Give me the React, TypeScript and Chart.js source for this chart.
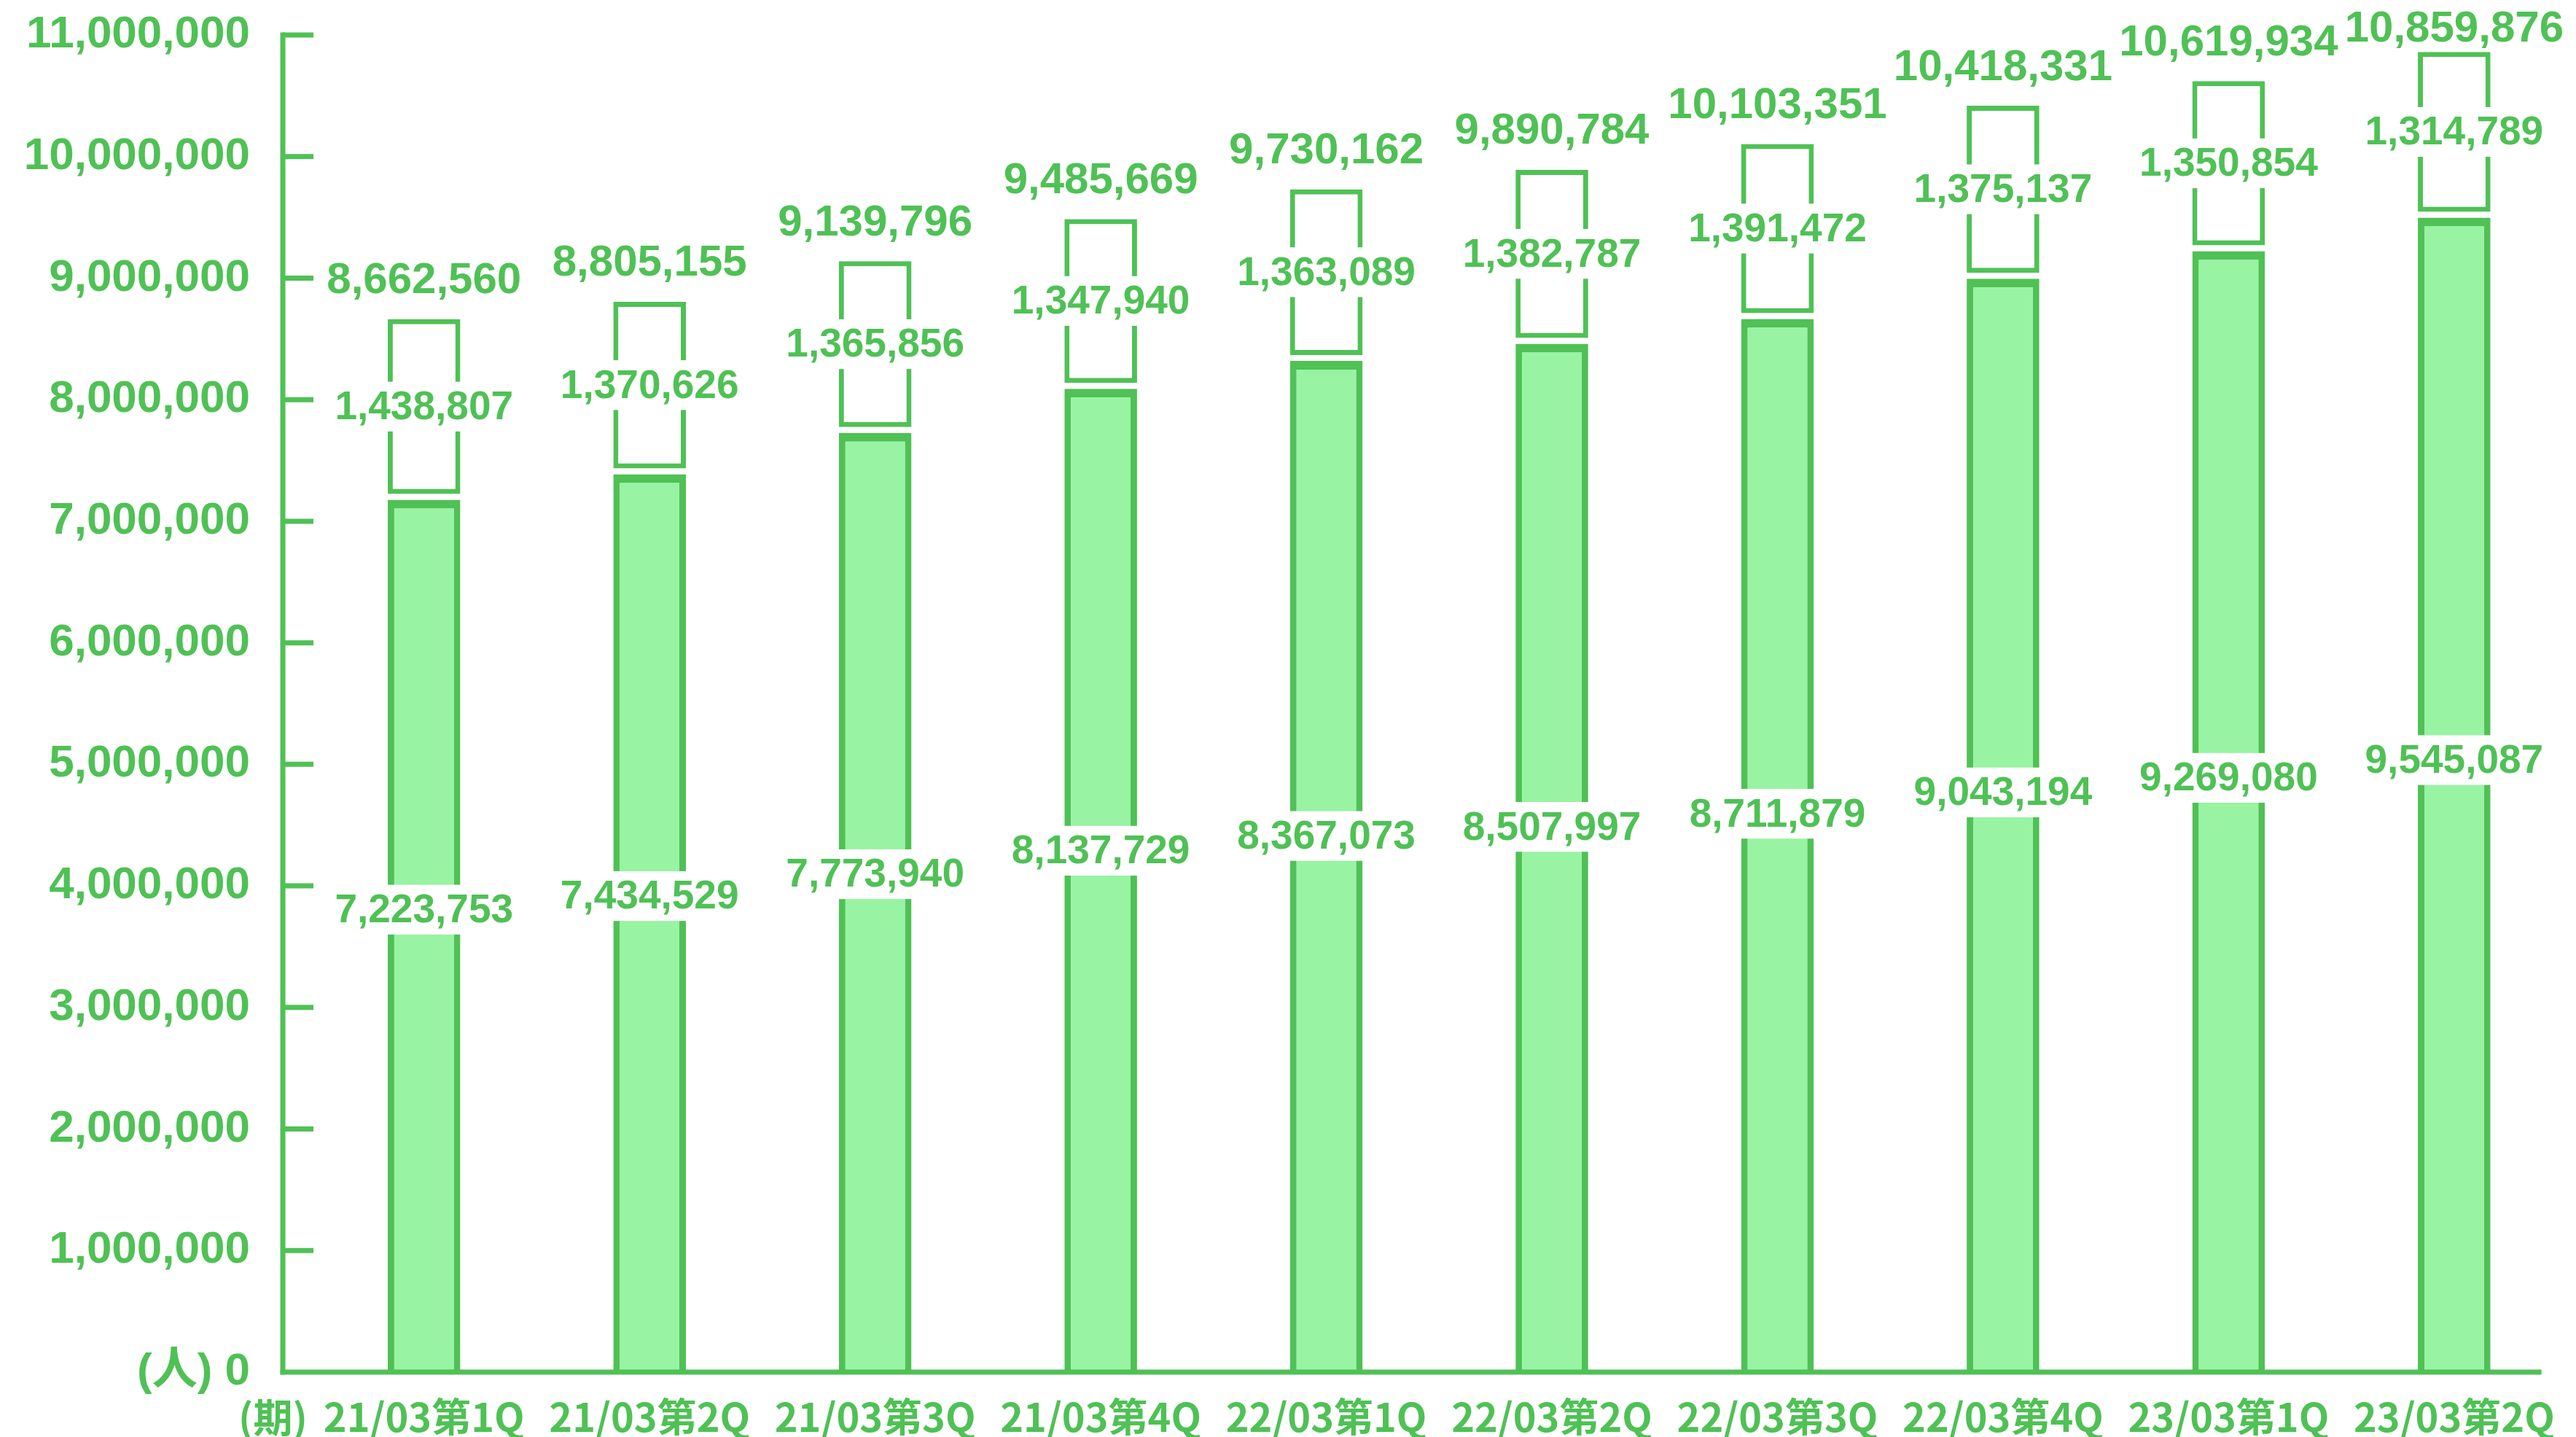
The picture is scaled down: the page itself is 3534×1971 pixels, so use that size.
import React, { useEffect, useRef } from "react";
import { Chart, registerables } from "chart.js";

Chart.register(...registerables);

// Quarterly user counts (people)
const periods = [
  "21/03第1Q",
  "21/03第2Q",
  "21/03第3Q",
  "21/03第4Q",
  "22/03第1Q",
  "22/03第2Q",
  "22/03第3Q",
  "22/03第4Q",
  "23/03第1Q",
  "23/03第2Q",
];
const baseUsers = [7223753, 7434529, 7773940, 8137729, 8367073, 8507997, 8711879, 9043194, 9269080, 9545087];
const addedUsers = [1438807, 1370626, 1365856, 1347940, 1363089, 1382787, 1391472, 1375137, 1350854, 1314789];
const totalUsers = [8662560, 8805155, 9139796, 9485669, 9730162, 9890784, 10103351, 10418331, 10619934, 10859876];
const yMin = 0;
const yMax = 11000000;
const yStep = 1000000;
const yUnit = "(人)";
const xUnit = "(期)";

const GREEN = "#4FC155";
const FILL = "#98F3A3";
const NUM_FONT = '"Liberation Sans", Arial, "Noto Sans CJK JP", sans-serif';
const CJK_FONT = '"Noto Sans CJK JP", "Liberation Sans", sans-serif';
const GAP = 8; // white gap between the two stacked segments

const fmt = (v: number) => v.toLocaleString("en-US");

const sketchPlugin = {
  id: "sketchBars",
  beforeDatasetDraw(chart: any, args: any) {
    if (args.index === 0) {
      chart.ctx.save();
      chart.ctx.translate(0, GAP);
    }
  },
  afterDatasetDraw(chart: any, args: any) {
    if (args.index === 0) chart.ctx.restore();
  },
  afterDatasetsDraw(chart: any) {
    const { ctx, chartArea, scales } = chart;
    const ys = scales.y;
    const xs = scales.x;
    const axisX = chartArea.left - 39;
    const axisY = chartArea.bottom;
    const axisEnd = chartArea.right - 35;
    const lw = 7;

    ctx.save();
    ctx.strokeStyle = GREEN;
    ctx.lineWidth = lw;
    ctx.lineCap = "butt";

    // axes
    ctx.beginPath();
    ctx.moveTo(axisX, ys.getPixelForValue(yMax) - lw / 2);
    ctx.lineTo(axisX, axisY + lw / 2);
    ctx.stroke();
    ctx.beginPath();
    ctx.moveTo(axisX - lw / 2, axisY);
    ctx.lineTo(axisEnd, axisY);
    ctx.stroke();

    // inward tick marks
    ys.ticks.forEach((t: any) => {
      if (t.value === 0) return;
      const py = ys.getPixelForValue(t.value);
      ctx.beginPath();
      ctx.moveTo(axisX, py);
      ctx.lineTo(axisX + 42, py);
      ctx.stroke();
    });

    const lowMeta = chart.getDatasetMeta(0);
    const topMeta = chart.getDatasetMeta(1);
    ctx.textAlign = "center";
    ctx.textBaseline = "middle";

    const boxedLabel = (text: string, cx: number, cy: number, size: number) => {
      ctx.font = `bold ${size}px ${NUM_FONT}`;
      const w = ctx.measureText(text).width;
      ctx.fillStyle = "#ffffff";
      ctx.fillRect(cx - w / 2 - 6, cy - size * 0.62, w + 12, size * 1.24);
      ctx.fillStyle = GREEN;
      ctx.fillText(text, cx, cy + size * 0.04);
    };

    lowMeta.data.forEach((bar: any, i: number) => {
      const cy = bar.base - 0.53 * (bar.base - bar.y) + GAP / 2;
      boxedLabel(fmt(baseUsers[i]), bar.x, cy, 55);
    });
    topMeta.data.forEach((bar: any, i: number) => {
      const cy = (bar.base + bar.y) / 2;
      boxedLabel(fmt(addedUsers[i]), bar.x, cy, 55);
      ctx.font = `bold 60px ${NUM_FONT}`;
      ctx.fillStyle = GREEN;
      const ty = Math.max(bar.y - 52, 40);
      ctx.fillText(fmt(totalUsers[i]), bar.x, ty);
    });

    // period unit, left of the first category label
    const firstX = xs.getPixelForValue(0);
    ctx.font = `bold 54px ${CJK_FONT}`;
    const firstW = ctx.measureText(periods[0]).width;
    ctx.textAlign = "right";
    ctx.fillStyle = GREEN;
    ctx.fillText(xUnit, firstX - firstW / 2 - 22, axisY + 62);
    ctx.restore();
  },
};

export default function App() {
  const canvasRef = useRef<HTMLCanvasElement | null>(null);

  useEffect(() => {
    if (!canvasRef.current) return;
    const chart = new Chart(canvasRef.current, {
      type: "bar",
      data: {
        labels: periods,
        datasets: [
          {
            label: "base",
            data: baseUsers,
            backgroundColor: FILL,
            borderColor: GREEN,
            borderWidth: { top: 12, left: 9, right: 9, bottom: 0 },
            borderSkipped: false,
            clip: { left: false, top: false, right: false, bottom: -GAP } as any,
          },
          {
            label: "added",
            data: addedUsers,
            backgroundColor: "#ffffff",
            borderColor: GREEN,
            borderWidth: 7,
            borderSkipped: false,
          },
        ],
      },
      options: {
        responsive: false,
        animation: false,
        devicePixelRatio: 1,
        layout: { padding: { left: 0, right: 5, top: 48, bottom: 0 } },
        datasets: { bar: { barPercentage: 0.322, categoryPercentage: 1 } },
        plugins: {
          legend: { display: false },
          tooltip: { enabled: false },
        },
        scales: {
          x: {
            stacked: true,
            offset: true,
            grid: { display: false, drawTicks: false },
            border: { display: false },
            ticks: {
              color: GREEN,
              font: { family: CJK_FONT, size: 54, weight: "bold" },
              padding: 29,
              maxRotation: 0,
              autoSkip: false,
            },
            afterFit: (scale: any) => {
              scale.height = 89;
            },
          },
          y: {
            stacked: true,
            min: yMin,
            max: yMax,
            grid: { display: false, drawTicks: false },
            border: { display: false },
            ticks: {
              stepSize: yStep,
              color: GREEN,
              padding: 84,
              font: { family: NUM_FONT, size: 62, weight: "bold" },
              callback: (v: any) => (Number(v) === 0 ? `${yUnit} 0` : fmt(Number(v))),
            },
            afterFit: (scale: any) => {
              scale.width = 427;
              scale.paddingTop = 0;
              scale.paddingBottom = 0;
            },
          },
        },
      },
      plugins: [sketchPlugin],
    });
    return () => chart.destroy();
  }, []);

  return (
    <div style={{ position: "absolute", left: 0, top: 0, width: 3534, height: 1971, background: "#ffffff" }}>
      <canvas ref={canvasRef} width={3534} height={1971} style={{ display: "block" }} />
    </div>
  );
}
